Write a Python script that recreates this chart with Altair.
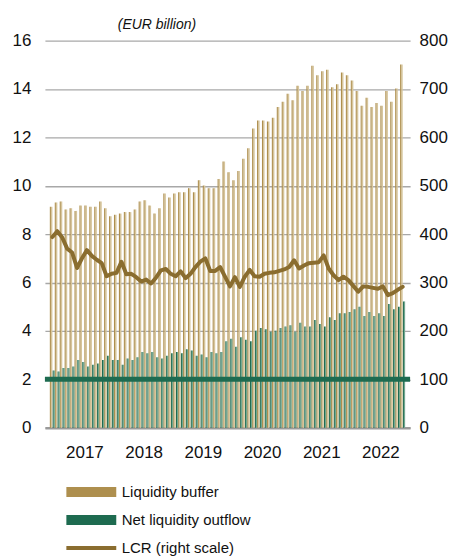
import altair as alt
import pandas as pd

years = ["2017", "2018", "2019", "2020", "2021", "2022"]

buffer = [9.13, 9.31, 9.35, 9.02, 9.07, 8.96, 9.18, 9.18, 9.13, 9.13,
          9.35, 9.07, 8.74, 8.80, 8.85, 8.91, 8.91, 9.02, 9.35, 9.40,
          9.18, 8.85, 9.07, 9.68, 9.51, 9.68, 9.73, 9.73, 9.90, 9.73,
          10.23, 10.01, 9.90, 9.90, 10.28, 11.00, 10.56, 10.23, 10.61, 11.11,
          11.55, 12.37, 12.70, 12.70, 12.65, 12.81, 13.25, 13.47, 13.80, 13.53,
          14.13, 13.91, 14.13, 14.96, 14.57, 14.73, 14.79, 14.07, 14.19, 14.68,
          14.57, 14.35, 13.91, 13.31, 13.64, 13.25, 13.42, 13.31, 13.91, 13.47,
          14.02, 15.01]

outflow = [2.36, 2.32, 2.47, 2.47, 2.53, 2.80, 2.71, 2.53, 2.60, 2.65,
           2.80, 2.97, 2.80, 2.80, 2.60, 2.86, 2.80, 2.91, 3.13, 3.08,
           3.13, 2.91, 2.86, 2.97, 3.08, 3.13, 3.08, 3.24, 3.19, 2.97,
           3.02, 2.91, 3.13, 3.08, 3.13, 3.57, 3.68, 3.35, 3.74, 3.63,
           3.57, 4.01, 4.12, 4.07, 3.96, 4.01, 4.12, 4.18, 4.23, 3.96,
           4.34, 4.18, 4.18, 4.45, 4.29, 4.18, 4.56, 4.45, 4.73, 4.73,
           4.78, 4.89, 5.00, 4.62, 4.78, 4.62, 4.73, 4.62, 5.11, 4.89,
           5.00, 5.22]

lcr = [394, 406, 393, 370, 362, 330, 350, 367, 355, 347,
       340, 313, 318, 320, 343, 317, 318, 311, 302, 306,
       298, 310, 325, 328, 318, 313, 323, 309, 318, 332,
       343, 350, 324, 324, 332, 312, 292, 311, 291, 312,
       326, 313, 312, 318, 320, 321, 324, 327, 332, 346,
       329, 335, 340, 341, 342, 356, 329, 315, 305, 312,
       305, 293, 281, 292, 291, 289, 287, 292, 274, 278,
       285, 291]

series = ["Liquidity buffer", "Net liquidity outflow", "LCR (right scale)"]
min_lcr = 100

df = pd.DataFrame({"i": list(range(len(buffer))), "buffer": buffer,
                   "outflow": outflow, "lcr": lcr})

FONT = "Liberation Sans"
n = len(buffer)
label_expr = "[" + ",".join("'%s'" % y for y in years) + "][floor(datum.value/12)]"

x_enc = alt.X("i:Q",
              scale=alt.Scale(domain=[-0.5, n - 0.5], nice=False, zero=False),
              axis=alt.Axis(values=[6.5 + 12 * k for k in range(len(years))],
                            labelExpr=label_expr, ticks=False, grid=False,
                            domainColor="#9a9a9a", domainWidth=2.5,
                            labelFontSize=17, labelPadding=17, labelFont=FONT,
                            labelColor="#111111", title=None))

left_axis = alt.Axis(values=list(range(0, 17, 2)), grid=True, gridColor="#a8a8a8",
                     gridWidth=1.3, ticks=False, domain=False, labelFontSize=17,
                     labelFont=FONT, labelColor="#111111", labelPadding=14, title=None)

yscale_left = alt.Scale(domain=[0, 16], nice=False)

color_scale = alt.Scale(domain=series[:2], range=["#AE8F4E", "#1E6B50"])
bar_legend = alt.Legend(orient="none", legendX=19, legendY=445, direction="vertical",
                        title=None, symbolType="M-5,-1H5V1H-5Z", symbolSize=100,
                        symbolOffset=20, labelOffset=23, labelFontSize=15,
                        labelFont=FONT, labelColor="#111111", rowPadding=12,
                        padding=0, symbolStrokeWidth=0)

base = alt.Chart(df)

tan_edge = base.transform_calculate(s="'%s'" % series[0]).mark_bar(
    width=1.1, xOffset=-2.0).encode(
    x=x_enc,
    y=alt.Y("buffer:Q", scale=yscale_left, axis=left_axis, title=None),
    color=alt.Color("s:N", scale=color_scale, legend=bar_legend),
)
tan_fill = base.mark_bar(width=1.5, xOffset=-0.7, color="#D6C59C").encode(
    x="i:Q", y=alt.Y("buffer:Q", title=None),
)
green_edge = base.transform_calculate(s="'%s'" % series[1]).mark_bar(
    width=1.0, xOffset=0.8).encode(
    x="i:Q",
    y=alt.Y("outflow:Q", title=None),
    color=alt.Color("s:N", scale=color_scale, legend=bar_legend),
)
green_fill = base.mark_bar(width=1.2, xOffset=1.9, color="#72A78F").encode(
    x="i:Q", y=alt.Y("outflow:Q", title=None),
)
bars = alt.layer(tan_fill, tan_edge, green_fill, green_edge)

yscale_right = alt.Scale(domain=[0, 800], nice=False)
right_axis = alt.Axis(orient="right", values=list(range(0, 801, 100)), grid=False,
                      ticks=False, domain=False, labelFontSize=17, labelFont=FONT,
                      labelColor="#111111", labelPadding=9, title=None)

rule = alt.Chart(pd.DataFrame({"v": [min_lcr]})).mark_rule(
    color="#1E6B50", strokeWidth=5).encode(
    y=alt.Y("v:Q", scale=yscale_right, axis=right_axis, title=None))

line_legend = alt.Legend(orient="none", legendX=19, legendY=501, title=None,
                         symbolType="M-5,0H5", symbolSize=100, symbolStrokeWidth=4,
                         symbolOffset=20, labelOffset=23, labelFontSize=15,
                         labelFont=FONT, labelColor="#111111", padding=0)

line = base.transform_calculate(s="'%s'" % series[2]).mark_line(
    strokeWidth=4, strokeJoin="round", strokeCap="round").encode(
    x="i:Q",
    y=alt.Y("lcr:Q", scale=yscale_right, title=None),
    stroke=alt.Stroke("s:N", scale=alt.Scale(domain=[series[2]], range=["#8A6D2F"]),
                      legend=line_legend),
)

right = alt.layer(rule, line)

chart = alt.layer(bars, right).resolve_scale(
    y="independent", color="independent", stroke="independent"
).properties(
    width=366, height=388,
    title=alt.Title("(EUR billion)", anchor="start", frame="group", dx=73,
                    fontStyle="italic", fontWeight="normal", fontSize=14,
                    font=FONT, color="#111111", offset=0),
    padding={"left": 37, "top": 32, "right": 45, "bottom": 140},
    autosize=alt.AutoSizeParams(type="none"),
).configure_view(stroke=None)

chart.save("out.html", embed_options={"renderer": "svg", "actions": False})
